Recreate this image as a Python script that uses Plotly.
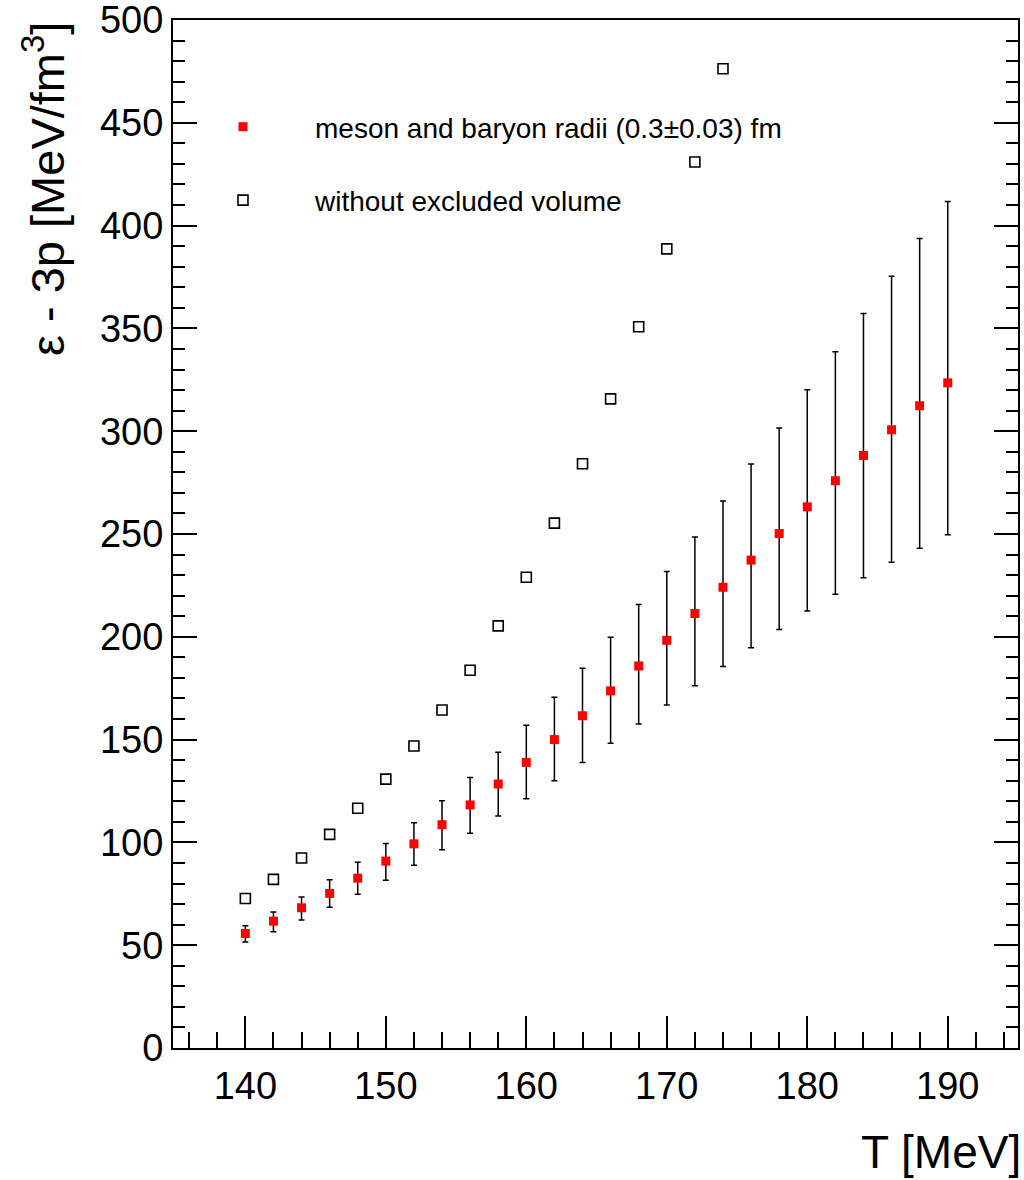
import plotly.graph_objects as go

# Data
T_ev = [140, 142, 144, 146, 148, 150, 152, 154, 156, 158, 160, 162, 164,
        166, 168, 170, 172, 174, 176, 178, 180, 182, 184, 186, 188, 190]
eps_ev = [55.7, 61.7, 68.2, 75.2, 82.6, 90.9, 99.3, 108.6, 118.2, 128.4, 138.9, 150.0, 161.6,
          173.7, 185.8, 198.3, 211.3, 224.1, 237.3, 250.2, 263.2, 275.9, 288.2, 300.7, 312.4, 323.5]
eps_hi = [59.4, 66.2, 73.5, 81.8, 90.3, 99.5, 109.5, 120.3, 131.6, 143.8, 157.0, 170.6, 184.7,
          199.8, 215.7, 231.7, 248.6, 266.0, 284.1, 301.6, 320.2, 338.7, 357.2, 375.4, 393.7, 411.7]
eps_lo = [51.5, 56.5, 62.3, 68.5, 74.8, 81.6, 88.9, 96.4, 104.4, 112.8, 121.2, 130.0, 138.9,
          148.2, 157.6, 166.8, 176.2, 185.5, 194.7, 203.5, 212.5, 220.7, 228.7, 236.3, 243.1, 249.6]

T_free = [140, 142, 144, 146, 148, 150, 152, 154, 156, 158, 160, 162, 164, 166, 168, 170, 172, 174]
eps_free = [72.7, 82.0, 92.4, 103.9, 116.6, 130.8, 146.9, 164.4, 183.7, 205.3, 229.0, 255.3,
            284.2, 315.7, 350.8, 388.7, 430.9, 476.3]

x_ticks = [140, 150, 160, 170, 180, 190]
y_ticks = [0, 50, 100, 150, 200, 250, 300, 350, 400, 450, 500]

FONT = "Liberation Sans, Arial, sans-serif"

err_plus = [h - c for h, c in zip(eps_hi, eps_ev)]
err_minus = [c - l for c, l in zip(eps_ev, eps_lo)]

fig = go.Figure()
fig.add_trace(go.Scatter(
    x=T_ev, y=eps_ev, mode="markers",
    name="meson and baryon radii (0.3\u00b10.03) fm",
    legendgroup="a",
    marker=dict(symbol="square", size=9, color="#ff0000", line=dict(width=0)),
    error_y=dict(type="data", symmetric=False, array=err_plus, arrayminus=err_minus,
                 color="black", thickness=1.5, width=3),
))
fig.add_trace(go.Scatter(
    x=T_free, y=eps_free, mode="markers",
    name="without excluded volume",
    legendgroup="b",
    marker=dict(symbol="square-open", size=10, color="black", line=dict(width=1.6, color="black")),
))

W, H = 1024, 1180
L, R, Tm, B = 173, 6, 20, 132
ph = H - Tm - B

def py(p):
    return 1 - (p - Tm) / ph

def px(p):
    return (p - L) / (W - L - R)

fig.update_layout(
    width=W, height=H,
    margin=dict(l=L, r=R, t=Tm, b=B, pad=0, autoexpand=False),
    paper_bgcolor="white", plot_bgcolor="white",
    font=dict(family=FONT, color="black"),
    showlegend=True,
    legend=dict(
        x=px(171), y=py(102), xanchor="left", yanchor="top",
        bgcolor="rgba(0,0,0,0)", borderwidth=0,
        font=dict(size=28, family=FONT),
        itemwidth=134, tracegroupgap=34,
        traceorder="grouped",
    ),
    xaxis=dict(
        range=[134.85, 195], showgrid=False, zeroline=False, automargin=False,
        showline=True, linecolor="black", linewidth=2, mirror=True,
        tickmode="array", tickvals=x_ticks, ticktext=[str(v) for v in x_ticks],
        ticks="inside", ticklen=32, tickwidth=1.5, tickcolor="black",
        minor=dict(ticks="inside", dtick=2, tick0=0, ticklen=16, tickwidth=1.5, tickcolor="black"),
        tickfont=dict(size=38, family=FONT),
        ticklabelstandoff=3,
    ),
    yaxis=dict(
        range=[0, 500], showgrid=False, zeroline=False, automargin=False,
        showline=True, linecolor="black", linewidth=2, mirror="ticks",
        tickmode="array", tickvals=y_ticks, ticktext=[str(v) for v in y_ticks],
        ticks="inside", ticklen=24, tickwidth=1.5, tickcolor="black",
        minor=dict(ticks="inside", dtick=10, tick0=0, ticklen=12, tickwidth=1.5, tickcolor="black"),
        tickfont=dict(size=38, family=FONT),
        ticklabeloverflow="allow",
    ),
    annotations=[
        dict(text="T [MeV]", xref="paper", yref="paper", x=1.0, y=py(1152),
             xanchor="right", yanchor="middle", showarrow=False, xshift=5,
             font=dict(size=46, family=FONT)),
        dict(text="\u03b5 - 3p [MeV/fm<sup>3</sup>]", xref="paper", yref="paper",
             x=px(44), y=1.0, xanchor="center", yanchor="top", textangle=-90,
             showarrow=False, font=dict(size=47, family=FONT)),
    ],
)

fig.write_html("out.html")
